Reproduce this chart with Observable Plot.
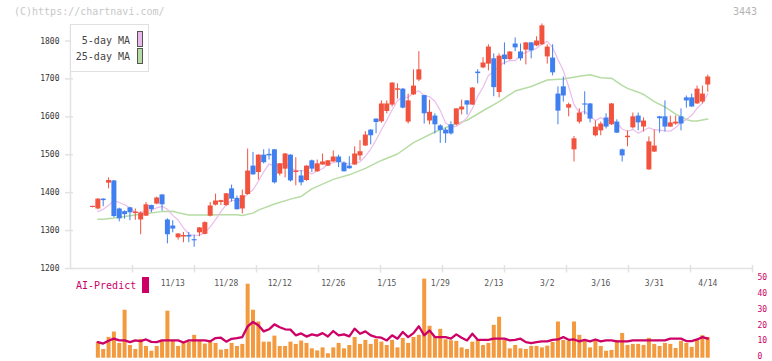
<!DOCTYPE html>
<html><head><meta charset="utf-8">
<script src="https://cdn.jsdelivr.net/npm/d3@7"></script>
<script src="https://cdn.jsdelivr.net/npm/@observablehq/plot@0.6"></script>
<style>
body{margin:0;background:#fff;}
#wrap{position:relative;width:772px;height:361px;overflow:hidden;font-family:"DejaVu Sans Mono",monospace;background:#fff;}
#top,#bottom{position:absolute;left:0;}
#top{top:0}
#bottom{top:274px}
.abs{position:absolute;white-space:pre;line-height:12px;}
</style></head><body>
<div id="wrap">
  <div id="top"></div>
  <div id="bottom"></div>
  <div class="abs" style="left:14px;top:6px;font-size:10px;color:#c8c8c8">(C)https://chartnavi.com/</div>
  <div class="abs" style="right:15px;top:6px;font-size:10px;color:#b4b4b4">3443</div>
  <div class="abs" style="left:70px;top:24px;width:77px;height:46px;border:1px solid #e0e0e0;background:#fff">
    <div class="abs" style="right:18px;top:10px;font-size:10px;color:#444">5-day MA</div>
    <div class="abs" style="left:66px;top:6px;width:4px;height:14px;border:1px solid #555;background:#ebb8eb"></div>
    <div class="abs" style="right:18px;top:26px;font-size:10px;color:#444">25-day MA</div>
    <div class="abs" style="left:66px;top:23px;width:4px;height:14px;border:1px solid #555;background:#b6dca4"></div>
  </div>
  <div class="abs" style="left:76px;top:280px;font-size:10px;color:#cc0066">AI-Predict</div>
  <div class="abs" style="left:142px;top:277px;width:7px;height:16px;background:#cc0066"></div>
</div>
<script>
// ---- data ----
const dateLabels = ["11/13","11/28","12/12","12/26","1/15","1/29","2/13","3/2","3/16","3/31","4/14"];
const labelIndex = [15,25,35,45,55,65,75,85,95,105,115];
const priceTicks = [1200,1300,1400,1500,1600,1700,1800];
const volumeTicks = [0,10,20,30,40,50];

const open = [1361,1357,1383,1425,1431,1357,1350,1360,1345,1328,1338,1366,1370,1394,1328,1312,1281,1283,1287,1276,
1294,1290,1338,1367,1374,1366,1410,1385,1357,1395,1470,1453,1499,1501,1513,1449,1462,1499,1453,1444,
1432,1484,1455,1473,1470,1481,1494,1478,1470,1473,1497,1523,1565,1594,1587,1614,1631,1670,1673,1586,
1658,1697,1656,1589,1602,1576,1565,1579,1579,1618,1642,1631,1718,1729,1739,1753,1664,1763,1751,1792,
1771,1776,1795,1787,1790,1758,1755,1660,1679,1623,1513,1586,1634,1634,1550,1563,1597,1579,1586,1513,
1545,1571,1602,1573,1460,1507,1600,1600,1573,1581,1600,1650,1650,1634,1639,1684];
const high = [1364,1384,1384,1439,1432,1359,1352,1361,1357,1349,1374,1367,1388,1395,1331,1326,1292,1295,1295,1288,
1308,1323,1374,1396,1380,1398,1420,1391,1407,1515,1506,1500,1513,1515,1514,1477,1503,1500,1492,1458,
1471,1486,1486,1502,1485,1510,1499,1481,1495,1521,1537,1561,1566,1595,1642,1642,1690,1687,1675,1660,
1724,1772,1657,1644,1608,1579,1570,1587,1621,1644,1643,1677,1724,1756,1790,1766,1766,1795,1772,1808,
1792,1796,1796,1811,1845,1790,1790,1679,1705,1636,1548,1621,1666,1635,1589,1586,1608,1635,1592,1515,
1563,1610,1610,1597,1547,1565,1601,1642,1602,1602,1621,1655,1660,1681,1681,1710];
const low = [1360,1355,1363,1410,1334,1323,1330,1326,1327,1289,1337,1347,1368,1351,1265,1294,1275,1268,1268,1256,
1284,1289,1336,1365,1366,1364,1375,1354,1344,1393,1446,1433,1476,1486,1423,1444,1439,1428,1418,1418,
1430,1453,1454,1472,1469,1480,1466,1455,1462,1472,1484,1522,1526,1555,1583,1608,1626,1647,1621,1581,
1656,1693,1581,1579,1555,1530,1530,1552,1576,1605,1605,1630,1687,1727,1721,1653,1650,1737,1749,1772,
1747,1737,1753,1785,1788,1739,1708,1579,1639,1600,1481,1581,1605,1584,1547,1550,1568,1577,1556,1481,
1521,1568,1563,1560,1459,1506,1557,1560,1572,1578,1563,1623,1625,1633,1634,1665];
const close = [1364,1383,1379,1432,1337,1331,1342,1347,1349,1346,1368,1355,1386,1368,1289,1304,1291,1287,1283,1273,
1307,1321,1365,1378,1379,1397,1383,1355,1392,1457,1447,1499,1479,1497,1426,1476,1502,1431,1457,1426,
1470,1462,1476,1481,1484,1494,1479,1455,1463,1502,1508,1552,1550,1585,1634,1634,1689,1674,1623,1642,
1681,1724,1608,1612,1579,1564,1555,1555,1621,1626,1631,1676,1714,1742,1784,1677,1760,1751,1771,1782,
1753,1795,1774,1800,1840,1784,1716,1615,1655,1632,1542,1610,1631,1594,1573,1581,1573,1634,1557,1497,
1549,1600,1584,1589,1534,1523,1595,1573,1584,1586,1581,1642,1626,1673,1660,1705];

// 5-day MA, from day 1 to day 115
const ma5 = [1350,1356,1366,1379,1374,1368,1360,1348,1348,1351,1353,1360,1364,1356,1340,1328,1307,1291,1287,1288,
1294,1310,1329,1350,1368,1380,1378,1381,1397,1407,1430,1455,1476,1470,1476,1476,1467,1458,1458,1457,
1449,1458,1463,1475,1479,1483,1479,1475,1479,1481,1496,1515,1539,1566,1591,1618,1643,1651,1652,1662,
1669,1656,1653,1641,1617,1584,1573,1575,1584,1598,1622,1654,1678,1709,1719,1735,1743,1749,1748,1763,
1770,1775,1781,1792,1799,1783,1751,1722,1680,1632,1611,1614,1602,1590,1598,1590,1591,1584,1568,1562,
1567,1557,1564,1571,1566,1565,1563,1562,1572,1584,1593,1604,1622,1636,1661];
// 25-day MA, read at these days
const ma25Day = [1,2,4,7,10,13,15,16,18,21,24,27,28,30,31,34,37,39,41,45,48,51,54,57,60,64,67,70,73,76,79,82,85,88,91,93,95,97,99,100,102,103,105,107,109,111,112,113,115];
const ma25Value = [1330,1330,1333,1339,1345,1350,1351,1347,1341,1341,1342,1342,1340,1346,1354,1370,1383,1390,1410,1435,1447,1464,1485,1502,1532,1560,1577,1591,1616,1640,1668,1680,1697,1700,1707,1711,1703,1702,1683,1675,1665,1659,1640,1626,1607,1593,1589,1589,1594];

// volume and AI-Predict, from day 1 to day 115
const volume = [10.1,5.5,13.1,16.5,9.3,30.2,8.0,5.5,11.8,7.4,4.4,7.4,11.0,29.6,11.0,7.4,10.1,10.1,14.4,11.0,
8.9,10.1,9.3,5.1,5.5,9.3,7.4,8.7,46.6,30.2,22.8,10.1,10.1,13.9,7.4,7.4,10.1,8.7,10.8,9.3,
5.9,4.6,6.5,2.8,6.5,9.3,5.9,8.0,13.1,8.7,11.2,8.7,11.8,10.1,8.0,11.2,6.5,12.5,9.3,13.1,
14.4,49.8,20.1,13.7,18.2,11.6,11.0,10.6,6.5,5.5,10.1,11.6,8.0,9.3,20.7,25.8,11.2,5.9,8.0,5.9,
5.5,7.4,7.4,6.5,7.6,9.9,22.8,11.2,10.8,22.8,14.4,10.8,6.5,11.2,7.4,4.4,4.9,11.2,15.6,8.0,
8.7,8.7,8.0,12.5,8.7,7.4,9.3,8.7,6.1,10.6,9.3,6.8,11.2,14.2,13.1];
const aiPredict = [10.1,9.2,11.0,12.3,11.2,11.2,10.1,11.2,10.8,11.8,10.3,10.1,11.2,11.2,11.2,11.2,9.9,11.2,11.2,11.2,
11.2,10.6,12.7,12.9,10.4,12.2,12.7,13.3,20.0,22.8,20.7,16.9,18.2,21.3,19.5,18.2,18.0,14.4,15.6,13.6,
15.0,14.2,15.8,13.7,17.1,14.4,15.0,13.7,18.6,15.4,16.9,14.4,13.3,12.9,11.2,14.4,12.3,16.5,13.3,15.8,
20.1,14.4,17.5,13.3,13.3,13.3,12.3,15.0,12.9,11.2,15.4,11.6,11.6,11.6,12.3,12.3,12.3,11.2,11.6,12.3,
10.1,9.5,10.1,10.6,10.6,11.6,11.8,13.3,11.6,11.8,10.6,11.6,10.6,11.8,10.6,11.2,11.2,10.6,10.6,10.6,
11.2,11.2,11.2,11.2,11.2,11.2,11.2,12.3,12.3,12.3,10.8,10.8,11.8,13.3,12.3];

// ---- tables ----
const RED = "#f2533f", BLUE = "#3f7ff0";
const candles = open.map((o, i) => ({i, o, h: high[i], l: low[i], c: close[i]}));
const colorOf = d => d.c >= d.o ? RED : BLUE;
const ma5Data = ma5.map((v, k) => ({i: k + 1, v}));
const ma25Data = ma25Day.map((d, k) => ({i: d, v: ma25Value[k]}));
const volData = volume.map((v, k) => ({i: k + 1, v}));
const aiData = aiPredict.map((v, k) => ({i: k + 1, v}));

const X0 = -4.112, X1 = 123.364; // x scale domain (day index)
const xTicks = d3.range(1, 12).map(k => X0 + k * (X1 - X0) / 11);
const GRID = "#e2e2e2";
const font = {fontFamily: "'DejaVu Sans Mono', monospace", fontSize: "8px", background: "transparent", overflow: "visible"};

const topChart = Plot.plot({
  width: 772, height: 274,
  marginLeft: 70, marginRight: 20, marginTop: 24, marginBottom: 6,
  x: {domain: [X0, X1]},
  y: {domain: [1200, 1843.5]},
  style: font,
  marks: [
    Plot.frame({anchor: "left", stroke: GRID, strokeWidth: 1.5}),
    Plot.frame({anchor: "bottom", stroke: GRID, strokeWidth: 1.5}),
    Plot.axisX({ticks: xTicks, tickSize: 7.5, dy: -3, tickFormat: () => "", stroke: GRID, strokeWidth: 1.5, label: null}),
    Plot.axisY({ticks: priceTicks, tickSize: 8, dx: 3, tickFormat: () => "", stroke: GRID, strokeWidth: 1.5, label: null}),
    Plot.axisY({ticks: priceTicks, tickSize: 0, tickPadding: 11, tickFormat: d => String(d), fill: "#333", label: null}),
    Plot.line(ma25Data, {x: "i", y: "v", stroke: "#b6dca4", strokeWidth: 1.5}),
    Plot.line(ma5Data, {x: "i", y: "v", stroke: "#ebbcec", strokeWidth: 1.2}),
    Plot.ruleX(candles, {x: "i", y1: "l", y2: "h", stroke: colorOf, strokeWidth: 1}),
    Plot.ruleX(candles, {x: "i", y1: "o", y2: "c", stroke: colorOf, strokeWidth: 5})
  ]
});
document.getElementById("top").append(topChart);

const bottomChart = Plot.plot({
  width: 772, height: 87,
  marginLeft: 70, marginRight: 20, marginTop: 12, marginBottom: 0,
  x: {domain: [X0, X1]},
  y: {domain: [0, 50], range: [83.7, 4.3]},
  style: font,
  marks: [
    Plot.ruleX(volData, {x: "i", y1: 0, y2: "v", stroke: "#f39a3e", strokeWidth: 4}),
    Plot.line(aiData, {x: "i", y: "v", stroke: "#cc0066", strokeWidth: 2.3, strokeLinejoin: "round"}),
    Plot.axisX({anchor: "top", ticks: labelIndex, tickFormat: d => dateLabels[labelIndex.indexOf(d)], tickSize: 0, tickPadding: 1, fill: "#555", label: null}),
    Plot.axisY({anchor: "right", ticks: volumeTicks, tickSize: 0, tickPadding: 5, dy: -1.5, fill: "#cc0066", label: null})
  ]
});
document.getElementById("bottom").append(bottomChart);
</script>
</body></html>
